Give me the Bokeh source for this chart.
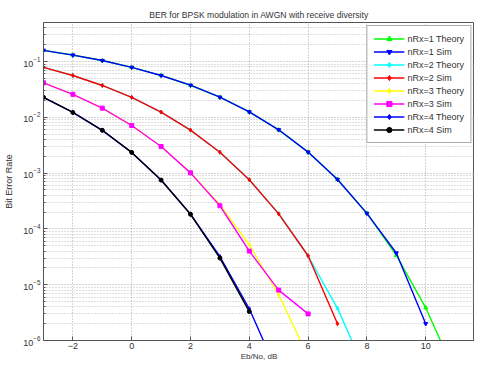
from bokeh.plotting import figure
from bokeh.models import FixedTicker
from bokeh.embed import file_html
from bokeh.resources import INLINE

# Eb/No (dB)
eb_n0_db = [-3, -2, -1, 0, 1, 2, 3, 4, 5, 6, 7, 8, 9, 10, 11]

# Theory curves
theory_rx1 = [0.1584, 0.1306, 0.1040, 0.0786, 0.0563, 0.0375, 0.0229, 0.0125,
              0.00595, 0.00239, 7.73e-4, 1.91e-4, 3.36e-5, 3.87e-6, 2.61e-7]
theory_rx2 = [0.0783, 0.0560, 0.0373, 0.0227, 0.0124, 0.0059, 0.00236, 7.6e-4,
              1.87e-4, 3.27e-5, 3.77e-6, 2.5e-7, 8.5e-9, 1e-10, 1e-12]
theory_rx3 = [0.0415, 0.0258, 0.0145, 0.00715, 0.0030, 0.00102, 2.7e-4, 5.2e-5,
              6.6e-6, 5.1e-7, 2.1e-8, 4e-10, 1e-11, 1e-13, 1e-15]
theory_rx4 = [0.0227, 0.0123, 0.00584, 0.00234, 7.5e-4, 1.84e-4, 3.2e-5, 3.7e-6,
              2.4e-7, 8e-9, 1e-10, 1e-12, 1e-14, 1e-16, 1e-18]

# Simulated curves
sim_rx1 = [0.1585, 0.1304, 0.1041, 0.0786, 0.0562, 0.0376, 0.0229, 0.0125,
           0.00597, 0.00238, 7.7e-4, 1.9e-4, 3.7e-5, 2e-6]
sim_rx2 = [0.0785, 0.0561, 0.0372, 0.0228, 0.0124, 0.0059, 0.00237, 7.6e-4,
           1.86e-4, 3.3e-5, 2e-6]
sim_rx3 = [0.0414, 0.0258, 0.0146, 0.00713, 0.0030, 0.00101, 2.6e-4, 4.0e-5,
           8e-6, 3e-6]
sim_rx4 = [0.0228, 0.0122, 0.00585, 0.00235, 7.5e-4, 1.83e-4, 3.0e-5, 3.3e-6]

series = [
    ("nRx=1 Theory", theory_rx1, "#00ff00", "triangle"),
    ("nRx=1 Sim", sim_rx1, "#0000ff", "inverted_triangle"),
    ("nRx=2 Theory", theory_rx2, "#00ffff", "diamond"),
    ("nRx=2 Sim", sim_rx2, "#ff0000", "diamond"),
    ("nRx=3 Theory", theory_rx3, "#ffff00", "diamond"),
    ("nRx=3 Sim", sim_rx3, "#ff00ff", "square"),
    ("nRx=4 Theory", theory_rx4, "#0000ff", "diamond"),
    ("nRx=4 Sim", sim_rx4, "#000000", "circle"),
]

FONT = "Liberation Sans"

p = figure(width=474, height=363, y_axis_type="log",
           x_range=(-3, 11.66), y_range=(1e-6, 0.5),
           output_backend="svg", toolbar_location=None,
           min_border_left=43, min_border_right=0,
           min_border_top=22, min_border_bottom=20,
           title="BER for BPSK modulation in AWGN with receive diversity")

p.title.text_font = FONT
p.title.text_font_size = "8.6px"
p.title.text_font_style = "normal"
p.title.text_color = "#333333"
p.title.align = "center"
p.title.standoff = 5

for name, ys, color, marker in series:
    xs = eb_n0_db[:len(ys)]
    p.line(xs, ys, line_color=color, line_width=1.4, legend_label=name)
    p.scatter(xs, ys, marker=marker, size=4, fill_color=color,
              line_color=color, legend_label=name)

p.xaxis.ticker = FixedTicker(ticks=[-2, 0, 2, 4, 6, 8, 10, 12])
yticks = [1e-6, 1e-5, 1e-4, 1e-3, 1e-2, 1e-1]
yminor = [k * d for d in [1e-6, 1e-5, 1e-4, 1e-3, 1e-2, 1e-1] for k in range(2, 10)]
p.yaxis.ticker = FixedTicker(ticks=yticks, minor_ticks=yminor)

for ax in (p.xaxis, p.yaxis):
    ax.axis_label_text_font = FONT
    ax.axis_label_text_font_size = "8px"
    ax.axis_label_text_font_style = "normal"
    ax.axis_label_text_color = "#333333"
    ax.major_label_text_font = FONT
    ax.major_label_text_font_size = "9px"
    ax.major_label_text_color = "#333333"
    ax.major_tick_in = 4
    ax.major_tick_out = 0
    ax.minor_tick_in = 2
    ax.minor_tick_out = 0
    ax.axis_line_color = "#555555"
    ax.major_tick_line_color = "#555555"
    ax.minor_tick_line_color = "#555555"

p.xaxis.axis_label = "Eb/No, dB"
p.yaxis.axis_label = "Bit Error Rate"
p.yaxis.axis_label_text_font_size = "9px"
p.xaxis.major_label_standoff = 2
p.xaxis.axis_label_standoff = 0
p.yaxis.major_label_standoff = 3
p.yaxis.axis_label_standoff = 6
p.xaxis.minor_tick_line_color = None

p.xgrid.grid_line_color = "#a8a8a8"
p.xgrid.grid_line_dash = "1 2"
p.ygrid.grid_line_color = "#a8a8a8"
p.ygrid.grid_line_dash = "1 2"
p.ygrid.minor_grid_line_color = "#bdbdbd"
p.ygrid.minor_grid_line_dash = "1 2"

p.outline_line_color = "#555555"
p.background_fill_color = "white"
p.border_fill_color = "white"

lg = p.legend[0]
lg.location = "top_right"
lg.margin = 3
lg.padding = 6
lg.spacing = 0
lg.glyph_width = 31
lg.glyph_height = 13
lg.label_height = 13
lg.label_standoff = 3
lg.label_text_font = FONT
lg.label_text_font_size = "9px"
lg.label_text_color = "#333333"
lg.border_line_color = "#555555"
lg.background_fill_color = "white"
lg.background_fill_alpha = 1.0

open("out.html", "w").write(file_html(p, INLINE))
